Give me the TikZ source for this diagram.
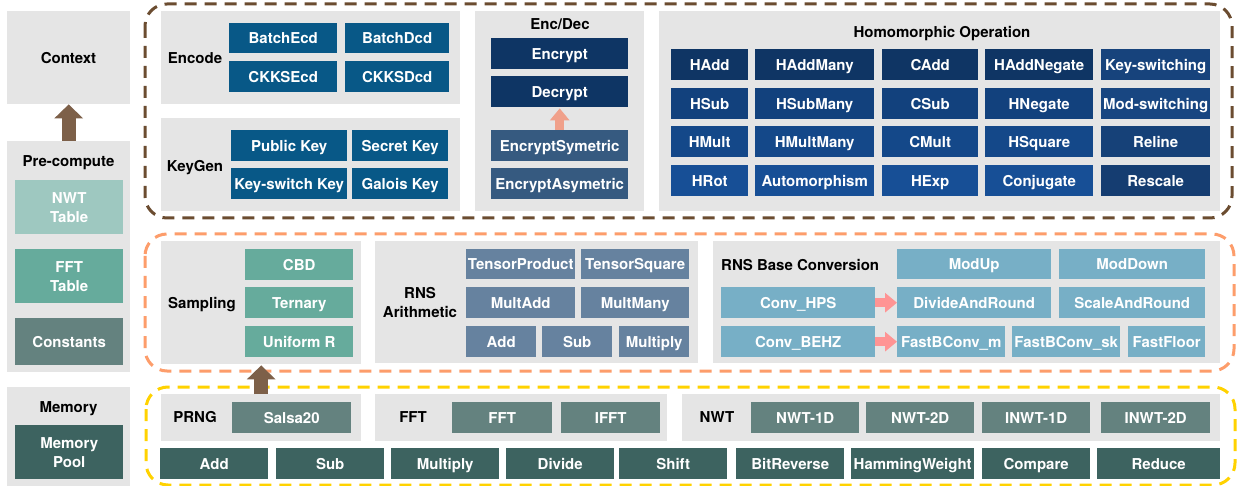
\documentclass[tikz,border=0pt]{standalone}
\usepackage{fontspec}
\setmainfont{TeX Gyre Heros}
\usetikzlibrary{arrows.meta}

% palette
\definecolor{grpgray}{HTML}{E5E5E5}
\definecolor{encblue}{HTML}{085887}
\definecolor{navy}{HTML}{0E3564}
\definecolor{encsym}{HTML}{365A80}
\definecolor{hrowA}{HTML}{0F3564}
\definecolor{hrowB}{HTML}{12417D}
\definecolor{hrowC}{HTML}{144889}
\definecolor{hrowD}{HTML}{174F96}
\definecolor{kcolA}{HTML}{17437C}
\definecolor{kcolB}{HTML}{184681}
\definecolor{kcolC}{HTML}{164178}
\definecolor{kcolD}{HTML}{153D71}
\definecolor{rnsarith}{HTML}{66829F}
\definecolor{rnsbc}{HTML}{77AFC6}
\definecolor{sampgreen}{HTML}{66AB9C}
\definecolor{nwtpale}{HTML}{9EC8C0}
\definecolor{slategreen}{HTML}{64827F}
\definecolor{darkgreen}{HTML}{3D6360}
\definecolor{brownline}{HTML}{6B4C30}
\definecolor{brownarrow}{HTML}{7D6049}
\definecolor{orangeline}{HTML}{FD9D6B}
\definecolor{yellowline}{HTML}{FFD200}
\definecolor{salmon}{HTML}{F0A08A}
\definecolor{pinkarrow}{HTML}{FF9494}

% block given by its corners: name, x1, y1, x2, y2, style, text
\newcommand\blk[7]{\node[#6, minimum width={(#4-#2)*1pt}, minimum height={(#5-#3)*1pt}, anchor=north west] (#1) at (#2,#3) {#7};}

\tikzset{
  grp/.style={fill=grpgray, inner sep=0pt},
  txt/.style={inner sep=0pt, align=center,
    font=\bfseries\fontsize{15}{19}\selectfont},
  % single-line text is centred on its capitals
  oneline/.style={text height=10.8pt, text depth=0pt},
  item/.style={txt, oneline, fill=#1, text=white},
  itemml/.style={txt, fill=#1, text=white},
  lbl/.style={txt, oneline, text=black},
  lblml/.style={txt, text=black},
  frame/.style={draw=#1, line width=3pt, rounded corners=22pt,
    dash pattern=on 12pt off 8pt},
  bigarrow/.style={draw=brownarrow, line width=14pt,
    -{Triangle[width=28pt,length=14pt]}},
  smallarrow/.style={draw=#1, line width=9pt,
    -{Triangle[width=19pt,length=12pt]}},
}

\begin{document}
\begin{tikzpicture}[x=1pt,y=-1pt]
\useasboundingbox (0,0) rectangle (1239,486);
\fill[white] (0,0) rectangle (1239,486);

% ---------- left column ----------
\blk{ctx}{7}{11}{130}{104}{grp}{}
\node[lbl] (ctxL) at (68.5,58) {Context};
\blk{pre}{7}{141}{130}{372}{grp}{}
\node[lbl] (preL) at (68.5,161) {Pre-compute};
\blk{nwtT}{15}{180}{123}{234}{itemml=nwtpale}{NWT\\Table}
\blk{fftT}{15}{249}{123}{303}{itemml=sampgreen}{FFT\\Table}
\blk{consts}{15}{318}{123}{365}{item=slategreen}{Constants}
\blk{mem}{7}{387}{130}{486}{grp}{}
\node[lbl] (memL) at (68.5,407) {Memory};
\blk{pool}{15}{425}{123}{479}{itemml=darkgreen}{Memory\\Pool}

% ---------- upper layer ----------
\blk{encode}{161}{11}{460}{104}{grp}{}
\node[lbl] (encodeL) at (195,58) {Encode};
\blk{bEcd}{229}{23}{337}{53}{item=encblue}{BatchEcd}
\blk{bDcd}{345}{23}{449}{53}{item=encblue}{BatchDcd}
\blk{cEcd}{229}{61}{337}{92}{item=encblue}{CKKSEcd}
\blk{cDcd}{345}{61}{449}{92}{item=encblue}{CKKSDcd}

\blk{keygen}{161}{118}{460}{211}{grp}{}
\node[lbl] (keygenL) at (195,166) {KeyGen};
\blk{pk}{231}{130}{347}{161}{item=encblue}{Public Key}
\blk{sk}{352}{130}{448}{161}{item=encblue}{Secret Key}
\blk{ksk}{231}{168}{347}{199}{item=encblue}{Key-switch Key}
\blk{gk}{352}{168}{448}{199}{item=encblue}{Galois Key}

\blk{encdec}{475}{11}{644}{211}{grp}{}
\node[lbl] (encdecL) at (560,24) {Enc/Dec};
\blk{encr}{491}{38}{628}{69}{item=navy}{Encrypt}
\blk{decr}{491}{76}{628}{107}{item=navy}{Decrypt}
\blk{esym}{491}{130}{628}{161}{item=encsym}{EncryptSymetric}
\blk{easym}{491}{168}{628}{199}{item=encsym}{EncryptAsymetric}

\blk{homo}{659}{11}{1220}{211}{grp}{}
\node[lbl] (homoL) at (942,32) {Homomorphic Operation};
% row 1
\blk{hadd}{671}{49}{748}{80}{item=hrowA}{HAdd}
\blk{haddm}{755}{49}{874}{80}{item=hrowA}{HAddMany}
\blk{cadd}{882}{49}{978}{80}{item=hrowA}{CAdd}
\blk{haddn}{985}{49}{1093}{80}{item=hrowA}{HAddNegate}
\blk{ksw}{1101}{49}{1210}{80}{item=kcolA}{Key-switching}
% row 2
\blk{hsub}{671}{88}{748}{119}{item=hrowB}{HSub}
\blk{hsubm}{755}{88}{874}{119}{item=hrowB}{HSubMany}
\blk{csub}{882}{88}{978}{119}{item=hrowB}{CSub}
\blk{hneg}{985}{88}{1093}{119}{item=hrowB}{HNegate}
\blk{msw}{1101}{88}{1210}{119}{item=kcolB}{Mod-switching}
% row 3
\blk{hmul}{671}{126}{748}{157}{item=hrowC}{HMult}
\blk{hmulm}{755}{126}{874}{157}{item=hrowC}{HMultMany}
\blk{cmul}{882}{126}{978}{157}{item=hrowC}{CMult}
\blk{hsq}{985}{126}{1093}{157}{item=hrowC}{HSquare}
\blk{relin}{1101}{126}{1210}{157}{item=kcolC}{Reline}
% row 4
\blk{hrot}{671}{165}{748}{196}{item=hrowD}{HRot}
\blk{auto}{755}{165}{874}{196}{item=hrowD}{Automorphism}
\blk{hexp}{882}{165}{978}{196}{item=hrowD}{HExp}
\blk{conj}{985}{165}{1093}{196}{item=hrowD}{Conjugate}
\blk{resc}{1101}{165}{1210}{196}{item=kcolD}{Rescale}

% ---------- middle layer ----------
\blk{sampling}{161}{241}{361}{364}{grp}{}
\node[lbl] (samplingL) at (202,303) {Sampling};
\blk{cbd}{245}{249}{353}{280}{item=sampgreen}{CBD}
\blk{tern}{245}{287}{353}{318}{item=sampgreen}{Ternary}
\blk{unif}{245}{326}{353}{357}{item=sampgreen}{Uniform R}

\blk{rnsa}{375}{241}{698}{363}{grp}{}
\node[lblml] (rnsaL) at (420,303) {RNS\\Arithmetic};
\blk{tprod}{466}{249}{575}{279}{item=rnsarith}{TensorProduct}
\blk{tsq}{581}{249}{689}{279}{item=rnsarith}{TensorSquare}
\blk{madd}{466}{287}{575}{318}{item=rnsarith}{MultAdd}
\blk{mmany}{581}{287}{689}{318}{item=rnsarith}{MultMany}
\blk{radd}{466}{326}{536}{357}{item=rnsarith}{Add}
\blk{rsub}{542}{326}{612}{357}{item=rnsarith}{Sub}
\blk{rmul}{619}{326}{689}{357}{item=rnsarith}{Multiply}

\blk{rnsbc}{713}{241}{1220}{363}{grp}{}
\node[lbl, anchor=west] (rnsbcL) at (721,265) {RNS Base Conversion};
\blk{modup}{897}{249}{1051}{279}{item=rnsbc}{ModUp}
\blk{moddown}{1059}{249}{1205}{279}{item=rnsbc}{ModDown}
\blk{hps}{721}{287}{875}{318}{item=rnsbc}{Conv\_HPS}
\blk{divr}{897}{287}{1051}{318}{item=rnsbc}{DivideAndRound}
\blk{scaler}{1059}{287}{1205}{318}{item=rnsbc}{ScaleAndRound}
\blk{behz}{721}{326}{875}{357}{item=rnsbc}{Conv\_BEHZ}
\blk{fbm}{897}{326}{1005}{357}{item=rnsbc}{FastBConv\_m}
\blk{fbsk}{1012}{326}{1120}{357}{item=rnsbc}{FastBConv\_sk}
\blk{ffloor}{1128}{326}{1205}{357}{item=rnsbc}{FastFloor}

% ---------- lower layer ----------
\blk{prng}{161}{394}{361}{441}{grp}{}
\node[lbl] (prngL) at (195,417) {PRNG};
\blk{salsa}{232}{402}{351}{433}{item=slategreen}{Salsa20}

\blk{fftbox}{375}{394}{667}{441}{grp}{}
\node[lbl] (fftL) at (413,417) {FFT};
\blk{fft}{452}{402}{552}{433}{item=slategreen}{FFT}
\blk{ifft}{561}{402}{660}{433}{item=slategreen}{IFFT}

\blk{nwtbox}{682}{394}{1220}{441}{grp}{}
\node[lbl] (nwtL) at (717,417) {NWT};
\blk{nwta}{751}{402}{859}{433}{item=slategreen}{NWT-1D}
\blk{nwtb}{866}{402}{974}{433}{item=slategreen}{NWT-2D}
\blk{inwta}{982}{402}{1090}{433}{item=slategreen}{INWT-1D}
\blk{inwtb}{1101}{402}{1210}{433}{item=slategreen}{INWT-2D}

\blk{badd}{160}{448}{268}{479}{item=darkgreen}{Add}
\blk{bsub}{276}{448}{384}{479}{item=darkgreen}{Sub}
\blk{bmul}{391}{448}{499}{479}{item=darkgreen}{Multiply}
\blk{bdiv}{506}{448}{614}{479}{item=darkgreen}{Divide}
\blk{bshift}{619}{448}{727}{479}{item=darkgreen}{Shift}
\blk{brev}{736}{448}{844}{479}{item=darkgreen}{BitReverse}
\blk{bham}{851}{448}{974}{479}{item=darkgreen}{HammingWeight}
\blk{bcmp}{982}{448}{1090}{479}{item=darkgreen}{Compare}
\blk{bred}{1097}{448}{1220}{479}{item=darkgreen}{Reduce}

% ---------- layer frames ----------
\draw[frame=brownline] (145,4) rectangle (1232,218);
\draw[frame=orangeline] (145,234) rectangle (1234,371);
\draw[frame=yellowline] (146,387) rectangle (1235,485);

% ---------- arrows ----------
\draw[bigarrow] (pre.north) -- (ctx.south);
\draw[bigarrow] (prng.north) -- ([yshift=-1pt]sampling.south);
\draw[smallarrow=salmon] (esym.north) -- ([yshift=-1pt]decr.south);
\draw[smallarrow=pinkarrow] (hps.east) -- (divr.west);
\draw[smallarrow=pinkarrow] (behz.east) -- (fbm.west);
\end{tikzpicture}
\end{document}
